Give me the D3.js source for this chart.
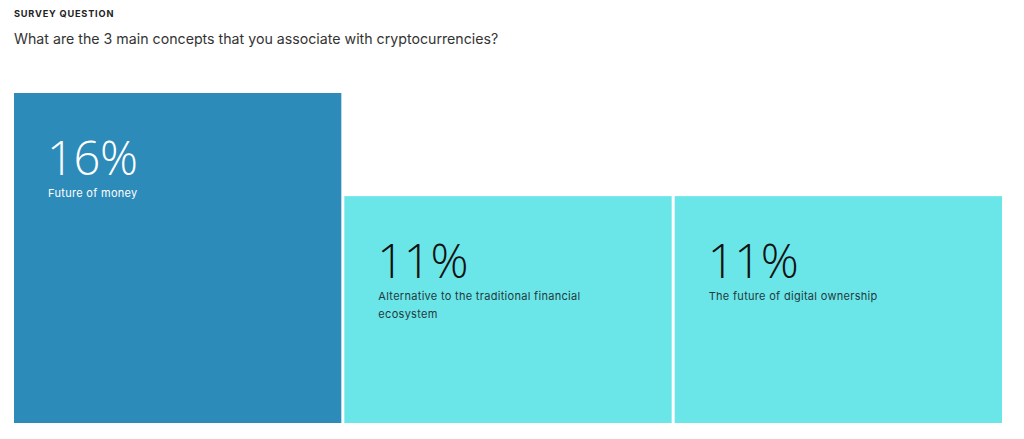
<!DOCTYPE html>
<html>
<head>
<meta charset="utf-8">
<script src="https://cdn.jsdelivr.net/npm/d3@7"></script>
<style>
  html, body { margin: 0; padding: 0; background: #fff; }
  body { width: 1024px; height: 439px; overflow: hidden; font-family: Inter, "Open Sans", sans-serif; }
</style>
</head>
<body>
<div id="chart"></div>
<script>
/* -----------------------
data
------------------------- */

var categories = ['Future of money',
  'Alternative to the traditional financial ecosystem',
  'The future of digital ownership'];
var values = [16, 11, 11];
var value_labels = ['16%', '11%', '11%'];

var kicker = 'SURVEY QUESTION',
  question = 'What are the 3 main concepts that you associate with cryptocurrencies?';

/* -----------------------
main variables
------------------------- */

var width = 1024,
  height = 439;

var margin = {top: 93, right: 22, bottom: 16, left: 14};

var c_top = '#2d8bba',
  c_rest = '#6be6e8';

var pad_x = 34,
  num_y = 82,
  lab_y = 104;

/* -----------------------
set plot
------------------------- */

var svg = d3.select('#chart')
  .append('svg')
  .attr('width', width)
  .attr('height', height);

svg.append('text')
  .attr('x', 14)
  .attr('y', 17)
  .attr('font-size', '9.2px')
  .attr('font-weight', 700)
  .attr('letter-spacing', '0.8px')
  .attr('fill', '#222')
  .text(kicker);

svg.append('text')
  .attr('x', 14)
  .attr('y', 44)
  .attr('font-size', '14.2px')
  .attr('fill', '#333')
  .text(question);

var inner_w = width - margin.left - margin.right,
  inner_h = height - margin.top - margin.bottom;

// gap between boxes is 3px
var step = (inner_w + 3) / categories.length;
var x = d3.scaleBand()
  .domain(categories)
  .range([0, inner_w])
  .paddingInner(3 / step)
  .paddingOuter(0);

var y = d3.scaleLinear()
  .domain([0, d3.max(values)])
  .range([inner_h, 0]);

var plot = svg.append('g')
  .attr('transform', 'translate(' + margin.left + ',' + margin.top + ')');

var box = plot.selectAll('.box')
  .data(categories)
  .enter()
  .append('g')
  .attr('class', 'box')
  .attr('transform', function (d, i) {
    return 'translate(' + x(d) + ',' + y(values[i]) + ')';
  });

box.append('rect')
  .attr('width', x.bandwidth())
  .attr('height', function (d, i) { return inner_h - y(values[i]); })
  .attr('fill', function (d, i) { return i == 0 ? c_top : c_rest; });

box.append('text')
  .attr('x', pad_x - 1)
  .attr('y', num_y)
  .attr('font-family', '"Open Sans", sans-serif')
  .attr('font-size', '47px')
  .attr('font-weight', 300)
  .attr('letter-spacing', '-0.3px')
  .attr('fill', function (d, i) { return i == 0 ? '#fff' : '#111'; })
  .text(function (d, i) { return value_labels[i]; });

// label, wrapped
box.append('text')
  .attr('y', lab_y)
  .attr('font-size', '11px')
  .attr('letter-spacing', '0.3px')
  .attr('fill', function (d, i) { return i == 0 ? '#fff' : '#1f3a40'; })
  .each(function (d) {
    var t = d3.select(this),
      words = d.split(' '),
      line = [],
      ts = t.append('tspan').attr('x', pad_x).attr('dy', 0);
    words.forEach(function (w) {
      line.push(w);
      ts.text(line.join(' '));
      if (ts.node().getComputedTextLength() > 225 && line.length > 1) {
        line.pop();
        ts.text(line.join(' '));
        line = [w];
        ts = t.append('tspan').attr('x', pad_x).attr('dy', 18).text(w);
      }
    });
  });
</script>
</body>
</html>
